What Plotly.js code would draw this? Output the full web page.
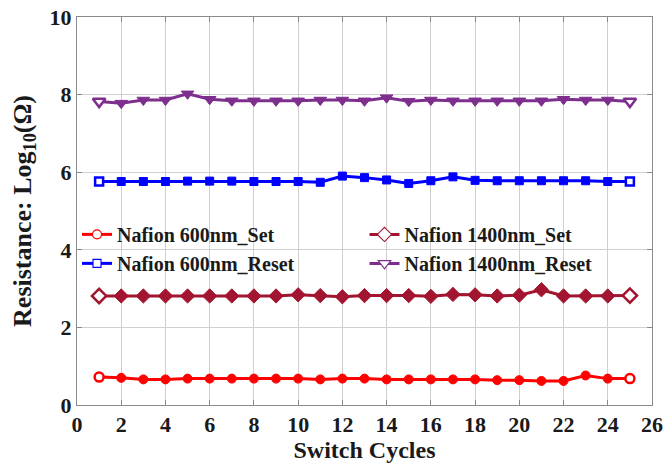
<!DOCTYPE html>
<html>
<head>
<meta charset="utf-8">
<script src="https://cdn.plot.ly/plotly-3.0.1.min.js"></script>
<style>
html,body{margin:0;padding:0;background:#fff;}
#chart{width:666px;height:464px;}
</style>
</head>
<body>
<div id="chart"></div>
<script>
const cycles = [1,2,3,4,5,6,7,8,9,10,11,12,13,14,15,16,17,18,19,20,21,22,23,24,25];
const set600 = [0.72,0.70,0.66,0.66,0.68,0.68,0.68,0.68,0.68,0.68,0.66,0.68,0.68,0.66,0.66,0.66,0.66,0.66,0.64,0.64,0.62,0.62,0.76,0.68,0.68];
const reset600 = [5.76,5.76,5.76,5.76,5.77,5.77,5.77,5.76,5.76,5.76,5.74,5.90,5.86,5.80,5.71,5.78,5.88,5.79,5.78,5.78,5.78,5.78,5.78,5.76,5.76];
const set1400 = [2.81,2.81,2.81,2.81,2.81,2.81,2.81,2.81,2.81,2.84,2.82,2.79,2.82,2.82,2.82,2.80,2.85,2.84,2.81,2.83,2.97,2.81,2.81,2.81,2.82];
const reset1400 = [7.82,7.78,7.86,7.86,8.02,7.88,7.84,7.84,7.84,7.84,7.86,7.86,7.84,7.92,7.83,7.86,7.84,7.84,7.84,7.84,7.84,7.88,7.86,7.86,7.82];
const names = ['Nafion 600nm_Set','Nafion 1400nm_Set','Nafion 600nm_Reset','Nafion 1400nm_Reset'];
const xTicks = [0,2,4,6,8,10,12,14,16,18,20,22,24,26];
const yTicks = [0,2,4,6,8,10];

const serif = 'Liberation Serif';
function endArr(inner, outer, n){
  return Array.from({length:n},(_,i)=> (i===0||i===n-1) ? outer : inner);
}
function tr(y, name, color, symbol, size, legendId){
  return {
    x: cycles, y: y, name: name, type: 'scatter', mode: 'lines+markers',
    legend: legendId,
    line: {color: color, width: 3},
    marker: {symbol: symbol, size: size, color: endArr(color, '#ffffff', y.length),
             line: {color: color, width: endArr(1, 2.5, y.length)}}
  };
}
const data = [
  tr(set600, names[0], '#ff0000', 'circle', 9, 'legend'),
  tr(reset600, names[2], '#0000ff', 'square', 8, 'legend'),
  tr(set1400, names[1], '#a2142f', 'diamond', 11, 'legend2'),
  tr(reset1400, names[3], '#7e2f8e', 'triangle-down', 11, 'legend2')
];
const axisCommon = {
  showline: true, mirror: 'ticks', linecolor: '#8a8a8a', linewidth: 1,
  showgrid: true, gridcolor: '#cfcfcf', gridwidth: 1,
  ticks: 'inside', ticklen: 5, tickcolor: '#8a8a8a',
  zeroline: false,
  tickfont: {family: serif, size: 22, color: '#1a1a1a', weight: 'bold'}
};
const legendFont = {family: serif, size: 20, color: '#1a1a1a', weight: 'bold'};
const layout = {
  width: 666, height: 464,
  margin: {l: 77, r: 14, t: 17, b: 59},
  paper_bgcolor: '#ffffff', plot_bgcolor: '#ffffff',
  font: {family: serif, color: '#1a1a1a'},
  xaxis: Object.assign({}, axisCommon, {
    range: [0, 26], tickvals: xTicks, ticktext: xTicks.map(String),
    title: {text: '<b>Switch Cycles</b>', font: {family: serif, size: 24, color: '#1a1a1a'}, standoff: 2}
  }),
  yaxis: Object.assign({}, axisCommon, {
    range: [0, 10], tickvals: yTicks, ticktext: yTicks.map(String),
    title: {text: '<b>Resistance: Log<sub>10</sub>(Ω)</b>', font: {family: serif, size: 26, color: '#1a1a1a'}, standoff: 10}
  }),
  showlegend: true,
  legend: {
    orientation: 'v', x: 0.0, xanchor: 'left', y: 0.49, yanchor: 'top',
    bgcolor: 'rgba(0,0,0,0)', font: legendFont, tracegroupgap: 0, itemwidth: 30, borderwidth: 0
  },
  legend2: {
    orientation: 'v', x: 0.5, xanchor: 'left', y: 0.49, yanchor: 'top',
    bgcolor: 'rgba(0,0,0,0)', font: legendFont, tracegroupgap: 0, itemwidth: 30, borderwidth: 0
  }
};
Plotly.newPlot('chart', data, layout, {displayModeBar: false, staticPlot: true});
</script>
</body>
</html>
